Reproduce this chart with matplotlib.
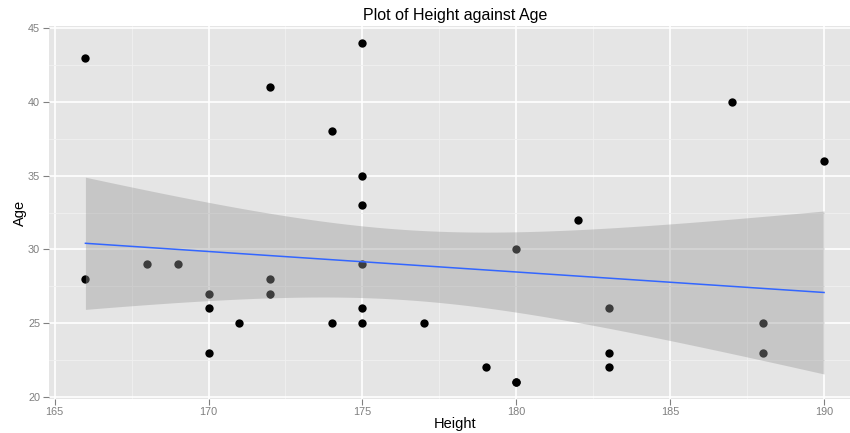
import numpy as np
import matplotlib
matplotlib.use("Agg")
import matplotlib.pyplot as plt

plt.rcParams['font.family'] = ['Liberation Sans', 'DejaVu Sans']

# data (180/21 appears twice: overplotted, the fit line needs it)
height = [166, 166, 168, 169, 170, 170, 170, 171, 172, 172, 172, 174, 174,
          175, 175, 175, 175, 175, 175, 177, 179, 180, 180, 180, 182, 183,
          183, 183, 187, 188, 188, 190]
age = [43, 28, 29, 29, 27, 26, 23, 25, 41, 28, 27, 38, 25,
       44, 35, 33, 29, 26, 25, 25, 22, 30, 21, 21, 32, 26,
       23, 22, 40, 25, 23, 36]
xticks = [165, 170, 175, 180, 185, 190]
yticks = [20, 25, 30, 35, 40, 45]

x = np.array(height, dtype=float)
y = np.array(age, dtype=float)
n = len(x)

# linear fit + 95% confidence band (like geom_smooth(method="lm"))
b, a = np.polyfit(x, y, 1)
xs = np.linspace(x.min(), x.max(), 80)
ys = a + b * xs
resid = y - (a + b * x)
s = np.sqrt(np.sum(resid ** 2) / (n - 2))
t_val = 2.042  # t quantile 0.975, df = n-2
se = s * np.sqrt(1.0 / n + (xs - x.mean()) ** 2 / np.sum((x - x.mean()) ** 2))
lo = ys - t_val * se
hi = ys + t_val * se

fig = plt.figure(figsize=(8.5, 4.33), dpi=100)
# panel runs off the right edge, as in the reference
ax = fig.add_axes([48.5 / 850, 1 - 399 / 433, (861 - 48.5) / 850, (399 - 26) / 433])
ax.set_facecolor('#e5e5e5')

xr = x.max() - x.min()
yr = y.max() - y.min()
ax.set_xlim(x.min() - 0.05 * xr, x.max() + 0.05 * xr)
ax.set_ylim(y.min() - 0.05 * yr, y.max() + 0.05 * yr)

ax.set_xticks(xticks)
ax.set_yticks(yticks)
ax.set_xticks([167.5, 172.5, 177.5, 182.5, 187.5], minor=True)
ax.set_yticks([22.5, 27.5, 32.5, 37.5, 42.5], minor=True)
ax.grid(which='major', color='white', linewidth=1.2)
ax.grid(which='minor', color='#f0f0f0', linewidth=0.6)
ax.set_axisbelow(True)
for sp in ax.spines.values():
    sp.set_visible(False)

ax.tick_params(which='major', length=4, width=0.8, color='#808080',
               labelcolor='#7f7f7f', labelsize=7.8, pad=2)
ax.tick_params(which='minor', length=0)

ax.scatter(x, y, s=36, color='black', zorder=2, linewidths=0)
ax.fill_between(xs, lo, hi, color='#999999', alpha=0.4, linewidth=0, zorder=3)
ax.plot(xs, ys, color='#3366ff', linewidth=1.1, zorder=4)

ax.set_xlabel('Height', fontsize=10.5)
ax.xaxis.set_label_coords(0.5, -0.048)
ax.set_ylabel('Age', fontsize=10.5, labelpad=1)
ax.set_title('Plot of Height against Age', fontsize=11.5, pad=4)

fig.savefig('out.png', dpi=100)
